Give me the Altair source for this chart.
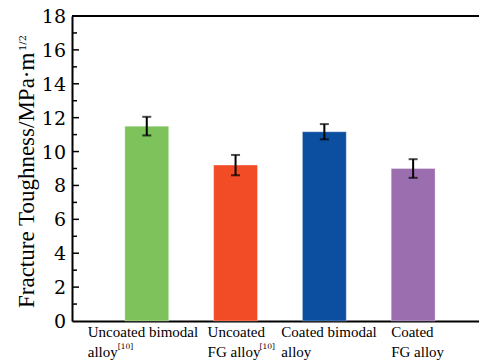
import altair as alt
import pandas as pd

# ---- data ----
categories = ["Uncoated bimodal alloy[10]", "Uncoated FG alloy[10]",
              "Coated bimodal alloy", "Coated FG alloy"]
label_line1 = ["Uncoated bimodal", "Uncoated", "Coated bimodal", "Coated"]
label_line2 = ["alloy", "FG alloy", "alloy", "FG alloy"]
label_sup = ["[10]", "[10]", "", ""]
values = [11.5, 9.2, 11.17, 9.0]
errors = [0.55, 0.6, 0.45, 0.55]
colors = ["#7DC25A", "#F24C26", "#0C4EA0", "#9B6EAF"]
major_ticks = [0, 2, 4, 6, 8, 10, 12, 14, 16, 18]
minor_ticks = [1, 3, 5, 7, 9, 11, 13, 15, 17]

# ---- layout (not data) ----
W, H = 407, 305
FONT = "Liberation Serif"
NUMFONT = "DejaVu Serif"
label_dx = [-59, -28, -43, -22]      # left edge of label block relative to band centre
sup_dx = [-29, 24, 0, 0]             # superscript position relative to band centre

df = pd.DataFrame({
    "cat": categories, "value": values,
    "lo": [v - e for v, e in zip(values, errors)],
    "hi": [v + e for v, e in zip(values, errors)],
    "l1": label_line1, "l2": label_line2, "sup": label_sup,
})
ticks_df = pd.DataFrame({"t": major_ticks, "lab": [str(v) for v in major_ticks]})

xscale = alt.Scale(domain=categories, paddingInner=0.506, paddingOuter=0.545, align=0.546)
yscale = alt.Scale(domain=[0, 18], nice=False, zero=True)

x_axis = alt.Axis(labels=False, ticks=False, domainWidth=2, domainColor="black",
                  grid=False, title=None)
y_axis = alt.Axis(values=major_ticks, labels=False, ticks=False, domainWidth=2,
                  domainColor="black", grid=False, title=None)


def X():
    return alt.X("cat:N", sort=categories, scale=xscale, axis=x_axis, title=None)


def Y(field):
    return alt.Y(field, scale=yscale, axis=y_axis, title=None)


bars = alt.Chart(df).mark_bar(stroke="white", strokeOpacity=0.4, strokeWidth=0.8).encode(
    x=X(), y=Y("value:Q"),
    color=alt.Color("cat:N", scale=alt.Scale(domain=categories, range=colors), legend=None),
)

err = alt.Chart(df).mark_rule(color="black", strokeWidth=2).encode(
    x=X(), y=Y("lo:Q"), y2="hi:Q")
cap_hi = alt.Chart(df).mark_tick(color="black", thickness=2, size=9).encode(
    x=X(), y=Y("hi:Q"))
cap_lo = alt.Chart(df).mark_tick(color="black", thickness=2, size=9).encode(
    x=X(), y=Y("lo:Q"))

tick_major = alt.Chart(pd.DataFrame({"t": major_ticks[1:-1]})).mark_rule(
    color="black", strokeWidth=1.5).encode(
    y=Y("t:Q"), x=alt.value(0), x2=alt.value(7))
tick_minor = alt.Chart(pd.DataFrame({"t": minor_ticks})).mark_rule(
    color="black", strokeWidth=1.5).encode(
    y=Y("t:Q"), x=alt.value(0), x2=alt.value(5))

tick_labels = alt.Chart(ticks_df).mark_text(
    align="right", baseline="middle", font=NUMFONT, fontSize=19, color="black", dy=1).encode(
    y=Y("t:Q"), x=alt.value(-6), text="lab:N")

top_line = alt.Chart(pd.DataFrame({"a": [0]})).mark_rule(color="black", strokeWidth=2).encode(
    y=alt.value(0), x=alt.value(0), x2=alt.value(W))

label_layers = []
for i, c in enumerate(categories):
    sub = df[df["cat"] == c]
    label_layers.append(alt.Chart(sub).mark_text(
        align="left", baseline="alphabetic", font=FONT, fontSize=15,
        color="black", dx=label_dx[i]).encode(
        x=X(), y=alt.value(H + 16), text="l1:N"))
    label_layers.append(alt.Chart(sub).mark_text(
        align="left", baseline="alphabetic", font=FONT, fontSize=15,
        color="black", dx=label_dx[i]).encode(
        x=X(), y=alt.value(H + 36), text="l2:N"))
    if label_sup[i]:
        label_layers.append(alt.Chart(sub).mark_text(
            align="left", baseline="alphabetic", font=NUMFONT, fontSize=7.5,
            color="black", dx=sup_dx[i]).encode(
            x=X(), y=alt.value(H + 28), text="sup:N"))

title_df = pd.DataFrame({"t": ["Fracture Toughness/MPa\u00b7m"], "s": ["1/2"]})
title_main = alt.Chart(title_df).mark_text(
    angle=270, align="left", baseline="alphabetic", font=FONT, fontSize=23,
    color="black").encode(x=alt.value(-38.5), y=alt.value(292), text="t:N")
title_sup = alt.Chart(title_df).mark_text(
    angle=270, align="left", baseline="alphabetic", font=NUMFONT, fontSize=10,
    color="black").encode(x=alt.value(-46), y=alt.value(35), text="s:N")

chart = alt.layer(
    bars, err, cap_hi, cap_lo, tick_major, tick_minor, tick_labels, top_line,
    title_main, title_sup, *label_layers
).properties(
    width=W, height=H,
    autosize=alt.AutoSizeParams(type="none"),
    padding={"left": 72, "top": 16, "right": 0, "bottom": 42},
    background="white",
).configure_view(stroke=None)

chart.save("out.html", embed_options={"renderer": "svg", "actions": False})
